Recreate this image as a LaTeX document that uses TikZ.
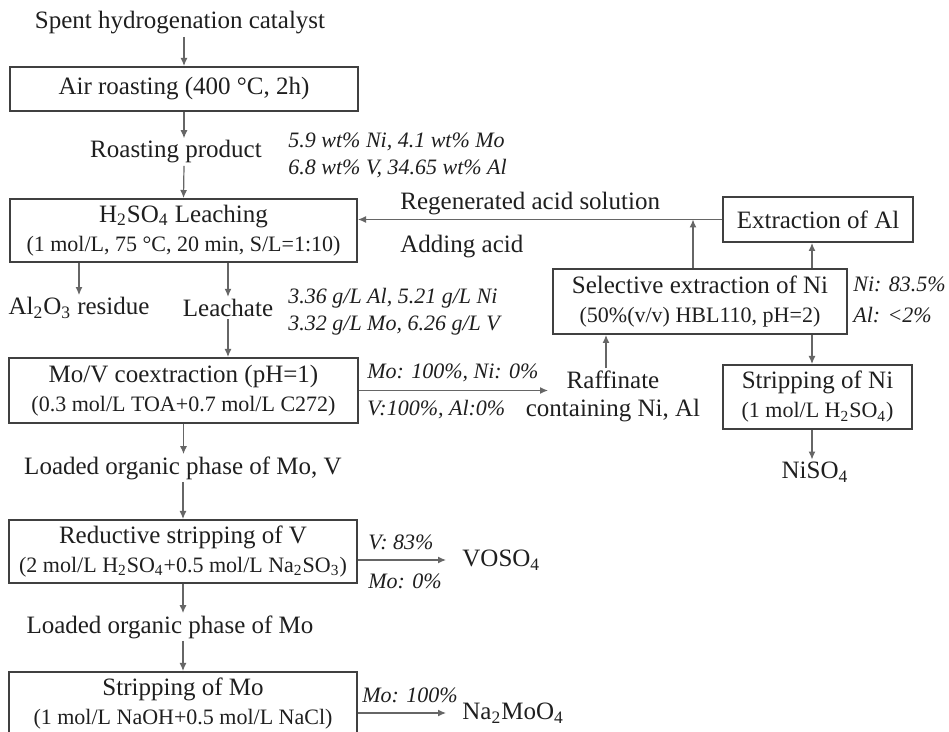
\documentclass[tikz,border=0pt]{standalone}
\usepackage{fontspec}
\setmainfont{Liberation Serif}
\usetikzlibrary{arrows.meta}
\definecolor{boxgray}{gray}{0.25}
\definecolor{arrgray}{gray}{0.4}
\definecolor{inkgray}{gray}{0.12}
\newcommand{\cond}[1]{{\fontsize{11}{13}\selectfont #1}}
\tikzset{
	stage/.style={draw=boxgray, line width=1pt, align=center, text=inkgray, font=\fontsize{12.5}{14.5}\selectfont, inner sep=1pt},
	plain/.style={align=center, text=inkgray, font=\fontsize{12.5}{14}\selectfont, inner sep=1pt},
	ratio/.style={align=left, anchor=west, text=inkgray, font=\fontsize{11}{13.5}\selectfont\itshape, inner sep=0pt},
	flow/.style={draw=arrgray, line width=0.6pt, -{Latex[length=4pt,width=3.5pt]}}
}

\begin{document}
\begin{tikzpicture}[x=0.5pt,y=-0.5pt]
			\clip (0,0) rectangle (949,732);
			\fill[white] (0,0) rectangle (949,732);
			
			% main column
			\node[plain] (spent) at (180,23) {Spent hydrogenation catalyst};
			\node[stage, minimum width=174pt, minimum height=22pt] (air) at (184,89) {Air roasting (400 °C, 2h)};
			\node[plain] (rprod) at (176,152) {Roasting product};
			\node[ratio] (rcomp) at (288,155) {5.9 wt\% Ni, 4.1 wt\% Mo\\6.8 wt\% V, 34.65 wt\% Al};
			\node[stage, minimum width=173.5pt, minimum height=31.5pt] (leach) at (183.5,230.5) {H\textsubscript{2}SO\textsubscript{4} Leaching\\\cond{(1 mol/L, 75 °C, 20 min, S/L=1:10)}};
			\node[plain] (resid) at (79,308) {Al\textsubscript{2}O\textsubscript{3} residue};
			\node[plain] (leachate) at (228,308) {Leachate};
			\node[ratio] (lcomp) at (288,312) {3.36 g/L Al, 5.21 g/L Ni\\3.32 g/L Mo, 6.26 g/L V};
			\node[stage, minimum width=174.5pt, minimum height=32.5pt] (mov) at (183.5,390.5) {Mo/V coextraction (pH=1)\\\cond{(0.3 mol/L TOA+0.7 mol/L C272)}};
			\node[plain] (load1) at (183,468) {Loaded organic phase of Mo, V};
			\node[stage, minimum width=174pt, minimum height=31.5pt] (redv) at (183,551.5) {Reductive stripping of V\\\cond{(2 mol/L H\textsubscript{2}SO\textsubscript{4}+0.5 mol/L Na\textsubscript{2}SO\textsubscript{3})}};
			\node[plain] (load2) at (170,627) {Loaded organic phase of Mo};
			\node[stage, minimum width=174pt, minimum height=31.5pt] (stmo) at (183,703.5) {Stripping of Mo\\\cond{(1 mol/L NaOH+0.5 mol/L NaCl)}};
			
			\draw[flow] (spent.south -| air.north) -- (air.north);
			\draw[flow] (air.south) -- (air.south |- rprod.north);
			\draw[flow] (air.south |- rprod.south) -- (leach.north);
			\draw[flow] (resid.north |- leach.south) -- (resid.north);
			\draw[flow] (leachate.north |- leach.south) -- (leachate.north);
			\draw[flow] (leachate.south) -- (leachate.south |- mov.north);
			\draw[flow] (mov.south) -- (mov.south |- load1.north);
			\draw[flow] (load1.south -| redv.north) -- (redv.north);
			\draw[flow] (redv.south) -- (redv.south |- load2.north);
			\draw[flow] (load2.south -| stmo.north) -- (stmo.north);
			
			% side products
			\node[ratio] (vrat) at (368,542) {V: 83\%};
			\node[ratio] (morat) at (368,581) {Mo: 0\%};
			\node[plain, anchor=west, inner xsep=8pt] (voso) at (446,560) {VOSO\textsubscript{4}};
			\draw[flow] (voso.west -| redv.east) -- (voso.west);
			\node[ratio] (mostrip) at (362,695) {Mo: 100\%};
			\node[plain, anchor=west, inner xsep=8pt] (namo) at (446,713) {Na\textsubscript{2}MoO\textsubscript{4}};
			\draw[flow] (namo.west -| stmo.east) -- (namo.west);
			
			% nickel and aluminium branch
			\node[ratio] (movmo) at (367,373) {Mo: 100\%, Ni: 0\%};
			\node[ratio] (movv) at (367,410) {V:100\%, Al:0\%};
			\node[plain] (raff) at (613,396) {Raffinate\\containing Ni, Al};
			\coordinate (raffin) at (548,390.5);
			\draw[flow] (mov.east) -- (raffin);
			\node[stage, minimum width=147pt, minimum height=32.5pt] (selni) at (700,301.5) {Selective extraction of Ni\\\cond{(50\%(v/v) HBL110, pH=2)}};
			\coordinate (raffup) at (606,0);
			\draw[flow] (raff.north -| raffup) -- (selni.south -| raffup);
			\node[ratio] (nirat) at (853,300) {Ni: 83.5\%\\[2pt]Al: <2\%};
			\node[stage, minimum width=95pt, minimum height=22.5pt] (extal) at (818,219.5) {Extraction of Al};
			\node[stage, minimum width=94.5pt, minimum height=32pt] (stni) at (817.5,397) {Stripping of Ni\\\cond{(1 mol/L H\textsubscript{2}SO\textsubscript{4})}};
			\node[plain] (niso) at (815,472) {NiSO\textsubscript{4}};
			\coordinate (nicol) at (812,0);
			\draw[flow] (selni.north -| nicol) -- (extal.south -| nicol);
			\draw[flow] (selni.south -| nicol) -- (stni.north -| nicol);
			\draw[flow] (stni.south -| nicol) -- (niso.north -| nicol);
			
			% acid recycle
			\node[plain, anchor=west] (regen) at (398,204) {Regenerated acid solution};
			\node[plain, anchor=west] (addacid) at (398,247) {Adding acid};
			\coordinate (acidjoin) at (693,219.5);
			\draw[draw=arrgray, line width=0.6pt] (extal.west) -- (acidjoin);
			\draw[flow] (acidjoin) -- (extal.west -| leach.east);
			\draw[flow] (selni.north -| acidjoin) -- (acidjoin);
		\end{tikzpicture}
\end{document}
